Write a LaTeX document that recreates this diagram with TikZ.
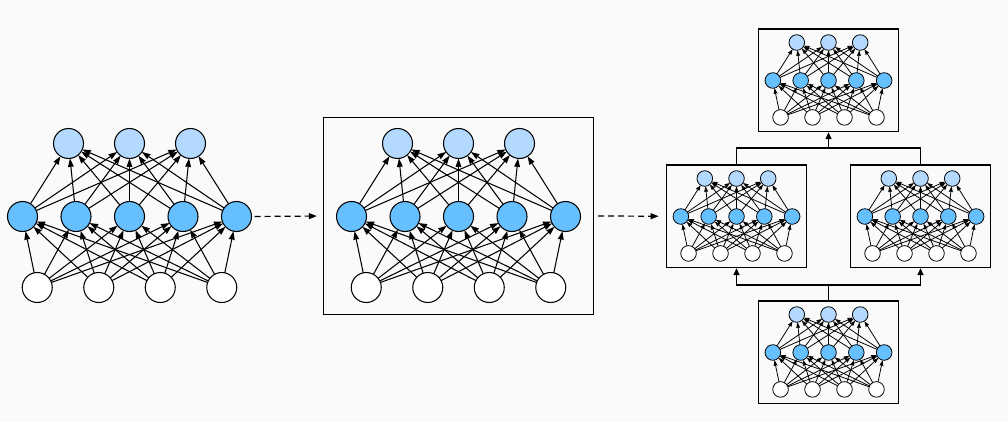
\documentclass[tikz,border=0pt]{standalone}
\usetikzlibrary{arrows.meta}
\definecolor{bgc}{HTML}{FAFAFA}
\definecolor{topc}{HTML}{B3D9FF}
\definecolor{midc}{HTML}{66BFFF}
\tikzset{
  neuron/.style={circle, draw=black, inner sep=0pt, outer sep=0pt},
  netbox/.style={draw=black, line width=1.4pt, inner sep=0pt, fill=none},
  conn/.style={line width=1.3pt, -{Triangle[length=7pt,width=6pt]}},
  dashconn/.style={line width=1.2pt, dash pattern=on 6pt off 4pt, -{Triangle[length=8pt,width=6pt]}},
}
% #1 prefix, #2 cx, #3 cy, #4 scale, #5 boxed (1/0)
\newcommand\mlpnet[5]{%
  \pgfmathsetmacro\rr{30*#4}%
  \pgfmathsetmacro\lw{0.5+0.55*#4}%
  \pgfmathsetmacro\al{2.5+6*#4}%
  \pgfmathsetmacro\aw{1.8+4*#4}%
  \begin{scope}[shift={(#2,#3)},scale=#4]
    \foreach \i/\x in {1/-61,2/0,3/61}
      \node[neuron, fill=topc, line width=\lw pt, minimum size=\rr pt] (#1t\i) at (\x,-73) {};
    \foreach \i/\x in {1/-107,2/-53.5,3/0,4/53.5,5/107}
      \node[neuron, fill=midc, line width=\lw pt, minimum size=\rr pt] (#1m\i) at (\x,0) {};
    \foreach \i/\x in {1/-92.25,2/-30.75,3/30.75,4/92.25}
      \node[neuron, fill=white, line width=\lw pt, minimum size=\rr pt] (#1b\i) at (\x,71) {};
    \foreach \i in {1,...,4}
      \foreach \j in {1,...,5}
        \draw[line width=\lw pt, -{Stealth[length=\al pt,width=\aw pt,inset=0.4pt]}] (#1b\i) -- (#1m\j);
    \foreach \i in {1,...,5}
      \foreach \j in {1,...,3}
        \draw[line width=\lw pt, -{Stealth[length=\al pt,width=\aw pt,inset=0.4pt]}] (#1m\i) -- (#1t\j);
    \ifnum#5=1
      \pgfmathsetmacro\bw{270*#4}%
      \pgfmathsetmacro\bh{197*#4}%
      \node[netbox, minimum width=\bw pt, minimum height=\bh pt] (#1box) at (0,-0.5) {};
    \fi
  \end{scope}}
\begin{document}
\begin{tikzpicture}[x=1pt,y=-1pt]
  \useasboundingbox[fill=bgc] (0,0) rectangle (1008,422);
  \mlpnet{L}{129.5}{216.5}{1}{0}
  \mlpnet{B}{458.5}{216.5}{1}{1}
  \mlpnet{T}{828.5}{80.5}{0.52}{1}
  \mlpnet{ML}{736.5}{216.5}{0.52}{1}
  \mlpnet{MR}{920.5}{216.5}{0.52}{1}
  \mlpnet{D}{828.5}{352.5}{0.52}{1}
  \draw[dashconn, shorten <=3pt, shorten >=6pt] (Lm5.east) -- (Bbox.west);
  \draw[dashconn, shorten <=4pt, shorten >=7pt] (Bbox.east) -- (MLbox.west);
  \coordinate (j1) at (828.5,148);
  \coordinate (j2) at (828.5,285);
  \draw[line width=1.3pt] (MLbox.north) |- (j1) -| (MRbox.north);
  \draw[conn] (j1) -- (Tbox.south);
  \draw[line width=1.3pt] (Dbox.north) -- (j2);
  \draw[conn] (j2) -| (MLbox.south);
  \draw[conn] (j2) -| (MRbox.south);
\end{tikzpicture}
\end{document}
